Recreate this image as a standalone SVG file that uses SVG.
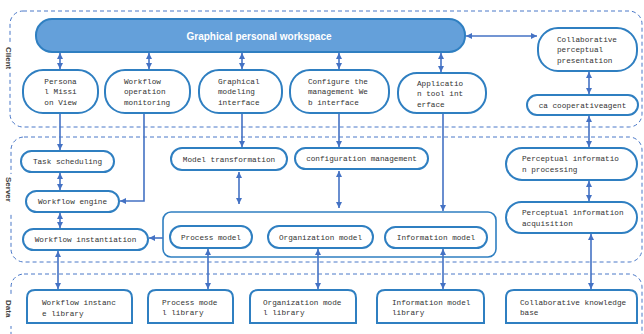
<svg xmlns="http://www.w3.org/2000/svg" width="644" height="334" viewBox="0 0 644 334">
  <style>
    .zone { fill: none; stroke: #4a78c8; stroke-width: 1; stroke-dasharray: 4 3; }
    .zlabel { font-family: "Liberation Sans", Arial, sans-serif; font-size: 8px; font-weight: bold; fill: #444; }
    .node { fill: #fff; stroke: #2f7fc1; stroke-width: 2; }
    .box { fill: none; stroke: #2f7fc1; stroke-width: 1.6; }
    .t { font-family: "Liberation Mono", "Courier New", monospace; font-size: 7.7px; fill: #333; }
    .c { text-anchor: middle; }
    .ws { fill: #64a0da; stroke: #2f7fc1; stroke-width: 2; }
    .wst { font-family: "Liberation Sans", Arial, sans-serif; font-size: 10px; font-weight: bold; fill: #fff; text-anchor: middle; }
    .a { fill: none; stroke: #4472c4; stroke-width: 1.6; }
    .one { marker-end: url(#head); }
    .two { marker-start: url(#head); marker-end: url(#head); }
  </style>
  <defs>
    <marker id="head" markerUnits="userSpaceOnUse" markerWidth="6" markerHeight="6" refX="6" refY="3" orient="auto-start-reverse">
      <path d="M0,0 L6,3 L0,6 z" fill="#4472c4"/>
    </marker>
  </defs>

  <rect width="644" height="334" fill="#fff"/>

  <!-- tier zones -->
  <g id="zones">
    <rect class="zone" x="10" y="11" width="632" height="116" rx="13"/>
    <rect class="zone" x="11" y="137" width="631" height="125" rx="13"/>
    <rect class="zone" x="11" y="274" width="631" height="80" rx="13"/>
    <rect x="3" y="44" width="12" height="26" fill="#fff"/>
    <rect x="3" y="174" width="12" height="38" fill="#fff"/>
    <rect x="3" y="296" width="12" height="30" fill="#fff"/>
    <text class="zlabel" transform="translate(6,47) rotate(90)">Client</text>
    <text class="zlabel" transform="translate(6,177) rotate(90)">Server</text>
    <text class="zlabel" transform="translate(6,300) rotate(90)">Data</text>
  </g>

  <!-- client tier -->
  <g id="workspace">
    <rect class="ws" x="36" y="19" width="429" height="33" rx="16"/>
    <text class="wst" x="259" y="39.5">Graphical personal workspace</text>
  </g>
  <g id="mission-view">
    <rect class="node" x="23" y="70" width="75" height="43" rx="20"/>
    <text class="t c" x="60.5" y="83.5">Persona</text>
    <text class="t c" x="60.5" y="94">l Missi</text>
    <text class="t c" x="60.5" y="104.5">on View</text>
  </g>
  <g id="operation-monitoring">
    <rect class="node" x="105" y="70" width="85" height="43" rx="20"/>
    <text class="t" x="124" y="83.5">Workflow</text>
    <text class="t" x="124" y="94">operation</text>
    <text class="t" x="124" y="104.5">monitoring</text>
  </g>
  <g id="modeling-interface">
    <rect class="node" x="199" y="70" width="83" height="43" rx="20"/>
    <text class="t" x="218" y="83.5">Graphical</text>
    <text class="t" x="218" y="94">modeling</text>
    <text class="t" x="218" y="104.5">interface</text>
  </g>
  <g id="management-web">
    <rect class="node" x="290" y="70" width="99" height="43" rx="20"/>
    <text class="t" x="308" y="83.5">Configure the</text>
    <text class="t" x="308" y="94">management We</text>
    <text class="t" x="308" y="104.5">b interface</text>
  </g>
  <g id="tool-interface">
    <rect class="node" x="398" y="73" width="88" height="40" rx="19"/>
    <text class="t" x="417" y="85.5">Applicatio</text>
    <text class="t" x="417" y="96">n tool int</text>
    <text class="t" x="417" y="106.5">erface</text>
  </g>
  <g id="perceptual-presentation">
    <rect class="node" x="538" y="28" width="99" height="43" rx="20"/>
    <text class="t" x="557" y="41.5">Collaborative</text>
    <text class="t" x="557" y="52">perceptual</text>
    <text class="t" x="557" y="62.5">presentation</text>
  </g>
  <g id="cooperative-agent">
    <rect class="node" x="527" y="95" width="111" height="20" rx="10"/>
    <text class="t c" x="582.5" y="107.5">ca cooperativeagent</text>
  </g>

  <!-- server tier -->
  <g id="task-scheduling">
    <rect class="node" x="21" y="151" width="93" height="21" rx="10.5"/>
    <text class="t c" x="67.5" y="164">Task scheduling</text>
  </g>
  <g id="workflow-engine">
    <rect class="node" x="26" y="191" width="93" height="21" rx="10.5"/>
    <text class="t c" x="72.5" y="204">Workflow engine</text>
  </g>
  <g id="workflow-instantiation">
    <rect class="node" x="23" y="229" width="125" height="21" rx="10.5"/>
    <text class="t c" x="85.5" y="242">Workflow instantiation</text>
  </g>
  <g id="model-transformation">
    <rect class="node" x="171" y="148" width="116" height="22" rx="11"/>
    <text class="t c" x="229" y="161.5">Model transformation</text>
  </g>
  <g id="configuration-management">
    <rect class="node" x="295" y="148" width="133" height="21" rx="10.5"/>
    <text class="t c" x="361.5" y="161">configuration management</text>
  </g>
  <g id="model-set">
    <rect class="box" x="163" y="212" width="333" height="45" rx="8"/>
  </g>
  <g id="process-model">
    <rect class="node" x="170" y="226" width="82" height="22" rx="11"/>
    <text class="t c" x="211" y="239.5">Process model</text>
  </g>
  <g id="organization-model">
    <rect class="node" x="268" y="226" width="105" height="22" rx="11"/>
    <text class="t c" x="320.5" y="239.5">Organization model</text>
  </g>
  <g id="information-model">
    <rect class="node" x="385" y="227" width="102" height="21" rx="10.5"/>
    <text class="t c" x="436" y="240">Information model</text>
  </g>
  <g id="perceptual-processing">
    <rect class="node" x="506" y="148" width="131" height="32" rx="16"/>
    <text class="t" x="522" y="161">Perceptual informatio</text>
    <text class="t" x="522" y="171.5">n processing</text>
  </g>
  <g id="perceptual-acquisition">
    <rect class="node" x="506" y="202" width="131" height="31" rx="15.5"/>
    <text class="t" x="522" y="215">Perceptual information</text>
    <text class="t" x="522" y="225.5">acquisition</text>
  </g>

  <!-- data tier -->
  <g id="instance-library">
    <path class="node" d="M27,323 V298 Q27,290 35,290 H124 Q132,290 132,298 V323 Z"/>
    <text class="t" x="42" y="305">Workflow instanc</text>
    <text class="t" x="42" y="315.5">e library</text>
  </g>
  <g id="process-library">
    <path class="node" d="M148,323 V298 Q148,290 156,290 H225 Q233,290 233,298 V323 Z"/>
    <text class="t" x="162" y="304.5">Process mode</text>
    <text class="t" x="162" y="315">l library</text>
  </g>
  <g id="organization-library">
    <path class="node" d="M250,323 V298 Q250,290 258,290 H348 Q356,290 356,298 V323 Z"/>
    <text class="t" x="263" y="304.5">Organization mode</text>
    <text class="t" x="263" y="315">l library</text>
  </g>
  <g id="information-library">
    <path class="node" d="M377,323 V298 Q377,290 385,290 H476 Q484,290 484,298 V323 Z"/>
    <text class="t" x="392" y="304.5">Information model</text>
    <text class="t" x="392" y="315">library</text>
  </g>
  <g id="knowledge-base">
    <path class="node" d="M506,323 V298 Q506,290 514,290 H629 Q637,290 637,298 V323 Z"/>
    <text class="t" x="520" y="304.5">Collaborative knowledge</text>
    <text class="t" x="520" y="315">base</text>
  </g>

  <!-- connectors -->
  <g id="connectors">
    <line class="a two" x1="60" y1="53" x2="60" y2="69"/>
    <line class="a two" x1="149" y1="53" x2="149" y2="69"/>
    <line class="a two" x1="242" y1="53" x2="242" y2="69"/>
    <line class="a two" x1="339" y1="53" x2="339" y2="69"/>
    <line class="a two" x1="441" y1="53" x2="441" y2="72"/>
    <line class="a two" x1="466" y1="36" x2="537" y2="36"/>
    <line class="a two" x1="589" y1="72" x2="589" y2="94"/>

    <line class="a one" x1="60" y1="114" x2="60" y2="150"/>
    <path class="a one" d="M144,114 V201 H120"/>
    <line class="a one" x1="242" y1="114" x2="242" y2="147"/>
    <line class="a one" x1="339" y1="114" x2="339" y2="147"/>
    <line class="a one" x1="443" y1="114" x2="443" y2="211"/>
    <line class="a two" x1="589" y1="116" x2="589" y2="147"/>

    <line class="a two" x1="60" y1="173" x2="60" y2="190"/>
    <line class="a two" x1="60" y1="213" x2="60" y2="228"/>
    <line class="a two" x1="239" y1="172" x2="239" y2="204"/>
    <line class="a two" x1="339" y1="171" x2="339" y2="208"/>
    <line class="a one" x1="163" y1="238" x2="149" y2="238"/>
    <line class="a two" x1="589" y1="181" x2="589" y2="201"/>
    <line class="a two" x1="591" y1="234" x2="591" y2="289"/>

    <line class="a two" x1="58" y1="251" x2="58" y2="289"/>
    <line class="a two" x1="208" y1="249" x2="208" y2="289"/>
    <line class="a two" x1="318" y1="249" x2="318" y2="289"/>
    <line class="a two" x1="443" y1="249" x2="443" y2="289"/>
  </g>
</svg>
